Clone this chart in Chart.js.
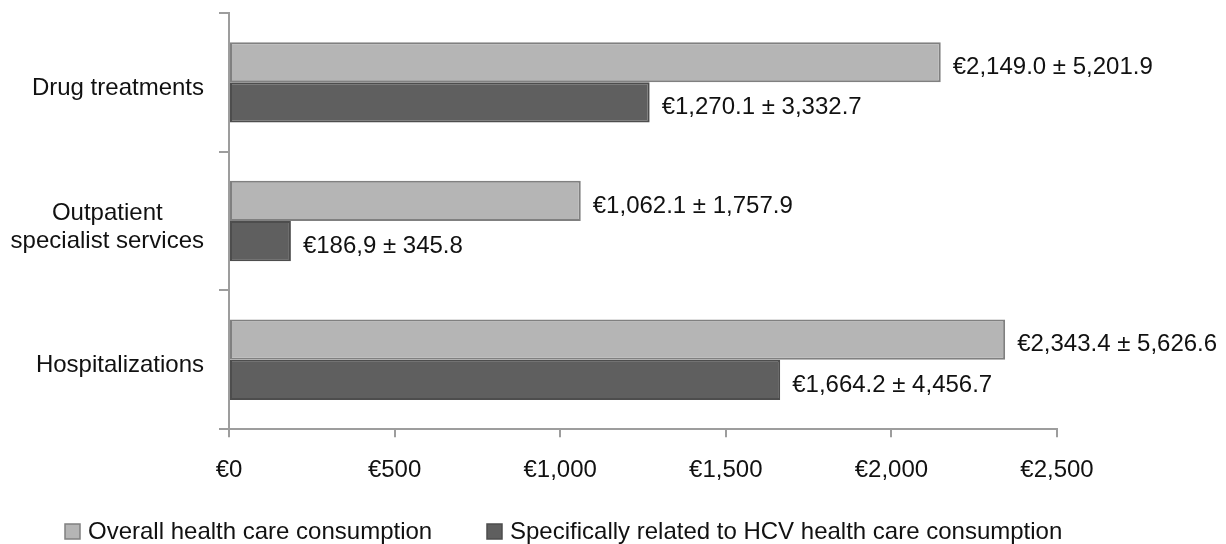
<!DOCTYPE html>
<html>
<head>
<meta charset="utf-8">
<script src="https://cdn.jsdelivr.net/npm/chart.js@4.4.1/dist/chart.umd.min.js"></script>
<style>
  html, body { margin: 0; padding: 0; background: #fff; }
</style>
</head>
<body>
<canvas id="chart" width="1226" height="544"></canvas>
<script>
// Chart values
const categories = [['Drug treatments'], ['Outpatient', 'specialist services'], ['Hospitalizations']];
const seriesNames = ['Overall health care consumption', 'Specifically related to HCV health care consumption'];
const overall = [2149.0, 1062.1, 2343.4];
const hcv = [1270.1, 186.9, 1664.2];
const overallLabels = ['€2,149.0 ± 5,201.9', '€1,062.1 ± 1,757.9', '€2,343.4 ± 5,626.6'];
const hcvLabels = ['€1,270.1 ± 3,332.7', '€186,9 ± 345.8', '€1,664.2 ± 4,456.7'];
const xTicks = [0, 500, 1000, 1500, 2000, 2500];

const FONT = '"Liberation Sans", Arial, sans-serif';
const TEXT = '#111';
const AXIS = '#9d9d9d';
const fills = ['#b5b5b5', '#5f5f5f'];
const borders = ['#808080', '#4d4d4d'];

Chart.defaults.font.family = FONT;
Chart.defaults.font.size = 24;
Chart.defaults.color = TEXT;

// value labels at bar ends, category labels, legend
const textPlugin = {
  id: 'textPlugin',
  afterDraw(chart) {
    const ctx = chart.ctx;
    ctx.save();
    ctx.font = '24px ' + FONT;
    ctx.fillStyle = TEXT;
    ctx.textBaseline = 'middle';

    ctx.textAlign = 'left';
    chart.data.datasets.forEach((ds, di) => {
      chart.getDatasetMeta(di).data.forEach((bar, i) => {
        ctx.fillText(ds.valueLabels[i], bar.x + 12, bar.y + 5);
      });
    });

    const yScale = chart.scales.y;
    ctx.textAlign = 'center';
    categories.forEach((lines, i) => {
      const yc = yScale.getPixelForTick(i) + 6;
      const block = Math.max(...lines.map(l => ctx.measureText(l).width));
      const cx = yScale.right - 25 - block / 2;
      lines.forEach((l, j) => {
        ctx.fillText(l, cx, yc + (j - (lines.length - 1) / 2) * 28);
      });
    });

    // legend
    const legendX = [65, 487];
    const ly = 532;
    ctx.textAlign = 'left';
    chart.data.datasets.forEach((ds, di) => {
      const x = legendX[di];
      ctx.fillStyle = ds.backgroundColor;
      ctx.strokeStyle = ds.borderColor;
      ctx.lineWidth = 1.5;
      ctx.fillRect(x, ly - 8, 15, 15);
      ctx.strokeRect(x, ly - 8, 15, 15);
      ctx.fillStyle = TEXT;
      ctx.fillText(ds.label, x + 23, ly);
    });
    ctx.restore();
  }
};

new Chart(document.getElementById('chart'), {
  type: 'bar',
  data: {
    labels: categories,
    datasets: [
      {
        label: seriesNames[0],
        data: overall,
        valueLabels: overallLabels,
        backgroundColor: fills[0],
        borderColor: borders[0],
        borderWidth: 2,
        borderSkipped: false
      },
      {
        label: seriesNames[1],
        data: hcv,
        valueLabels: hcvLabels,
        backgroundColor: fills[1],
        borderColor: borders[1],
        borderWidth: 2,
        borderSkipped: false
      }
    ]
  },
  options: {
    responsive: false,
    animation: false,
    indexAxis: 'y',
    categoryPercentage: 0.58,
    barPercentage: 1.0,
    layout: { padding: { top: 13, right: 169, bottom: 40, left: 0 } },
    scales: {
      x: {
        min: 0,
        max: 2500,
        afterBuildTicks: s => { s.ticks = xTicks.map(v => ({ value: v })); },
        grid: { drawOnChartArea: false, tickLength: 8, color: AXIS, lineWidth: 2 },
        border: { color: AXIS, width: 2 },
        ticks: {
          padding: 19,
          maxRotation: 0,
          callback: v => '€' + v.toLocaleString('en-US')
        }
      },
      y: {
        afterFit: s => { s.width = 229; },
        grid: { drawOnChartArea: false, tickLength: 10, color: AXIS, lineWidth: 2, offset: true },
        border: { color: AXIS, width: 2 },
        ticks: { display: false }
      }
    },
    plugins: {
      legend: { display: false },
      tooltip: { enabled: false }
    }
  },
  plugins: [textPlugin]
});
</script>
</body>
</html>
